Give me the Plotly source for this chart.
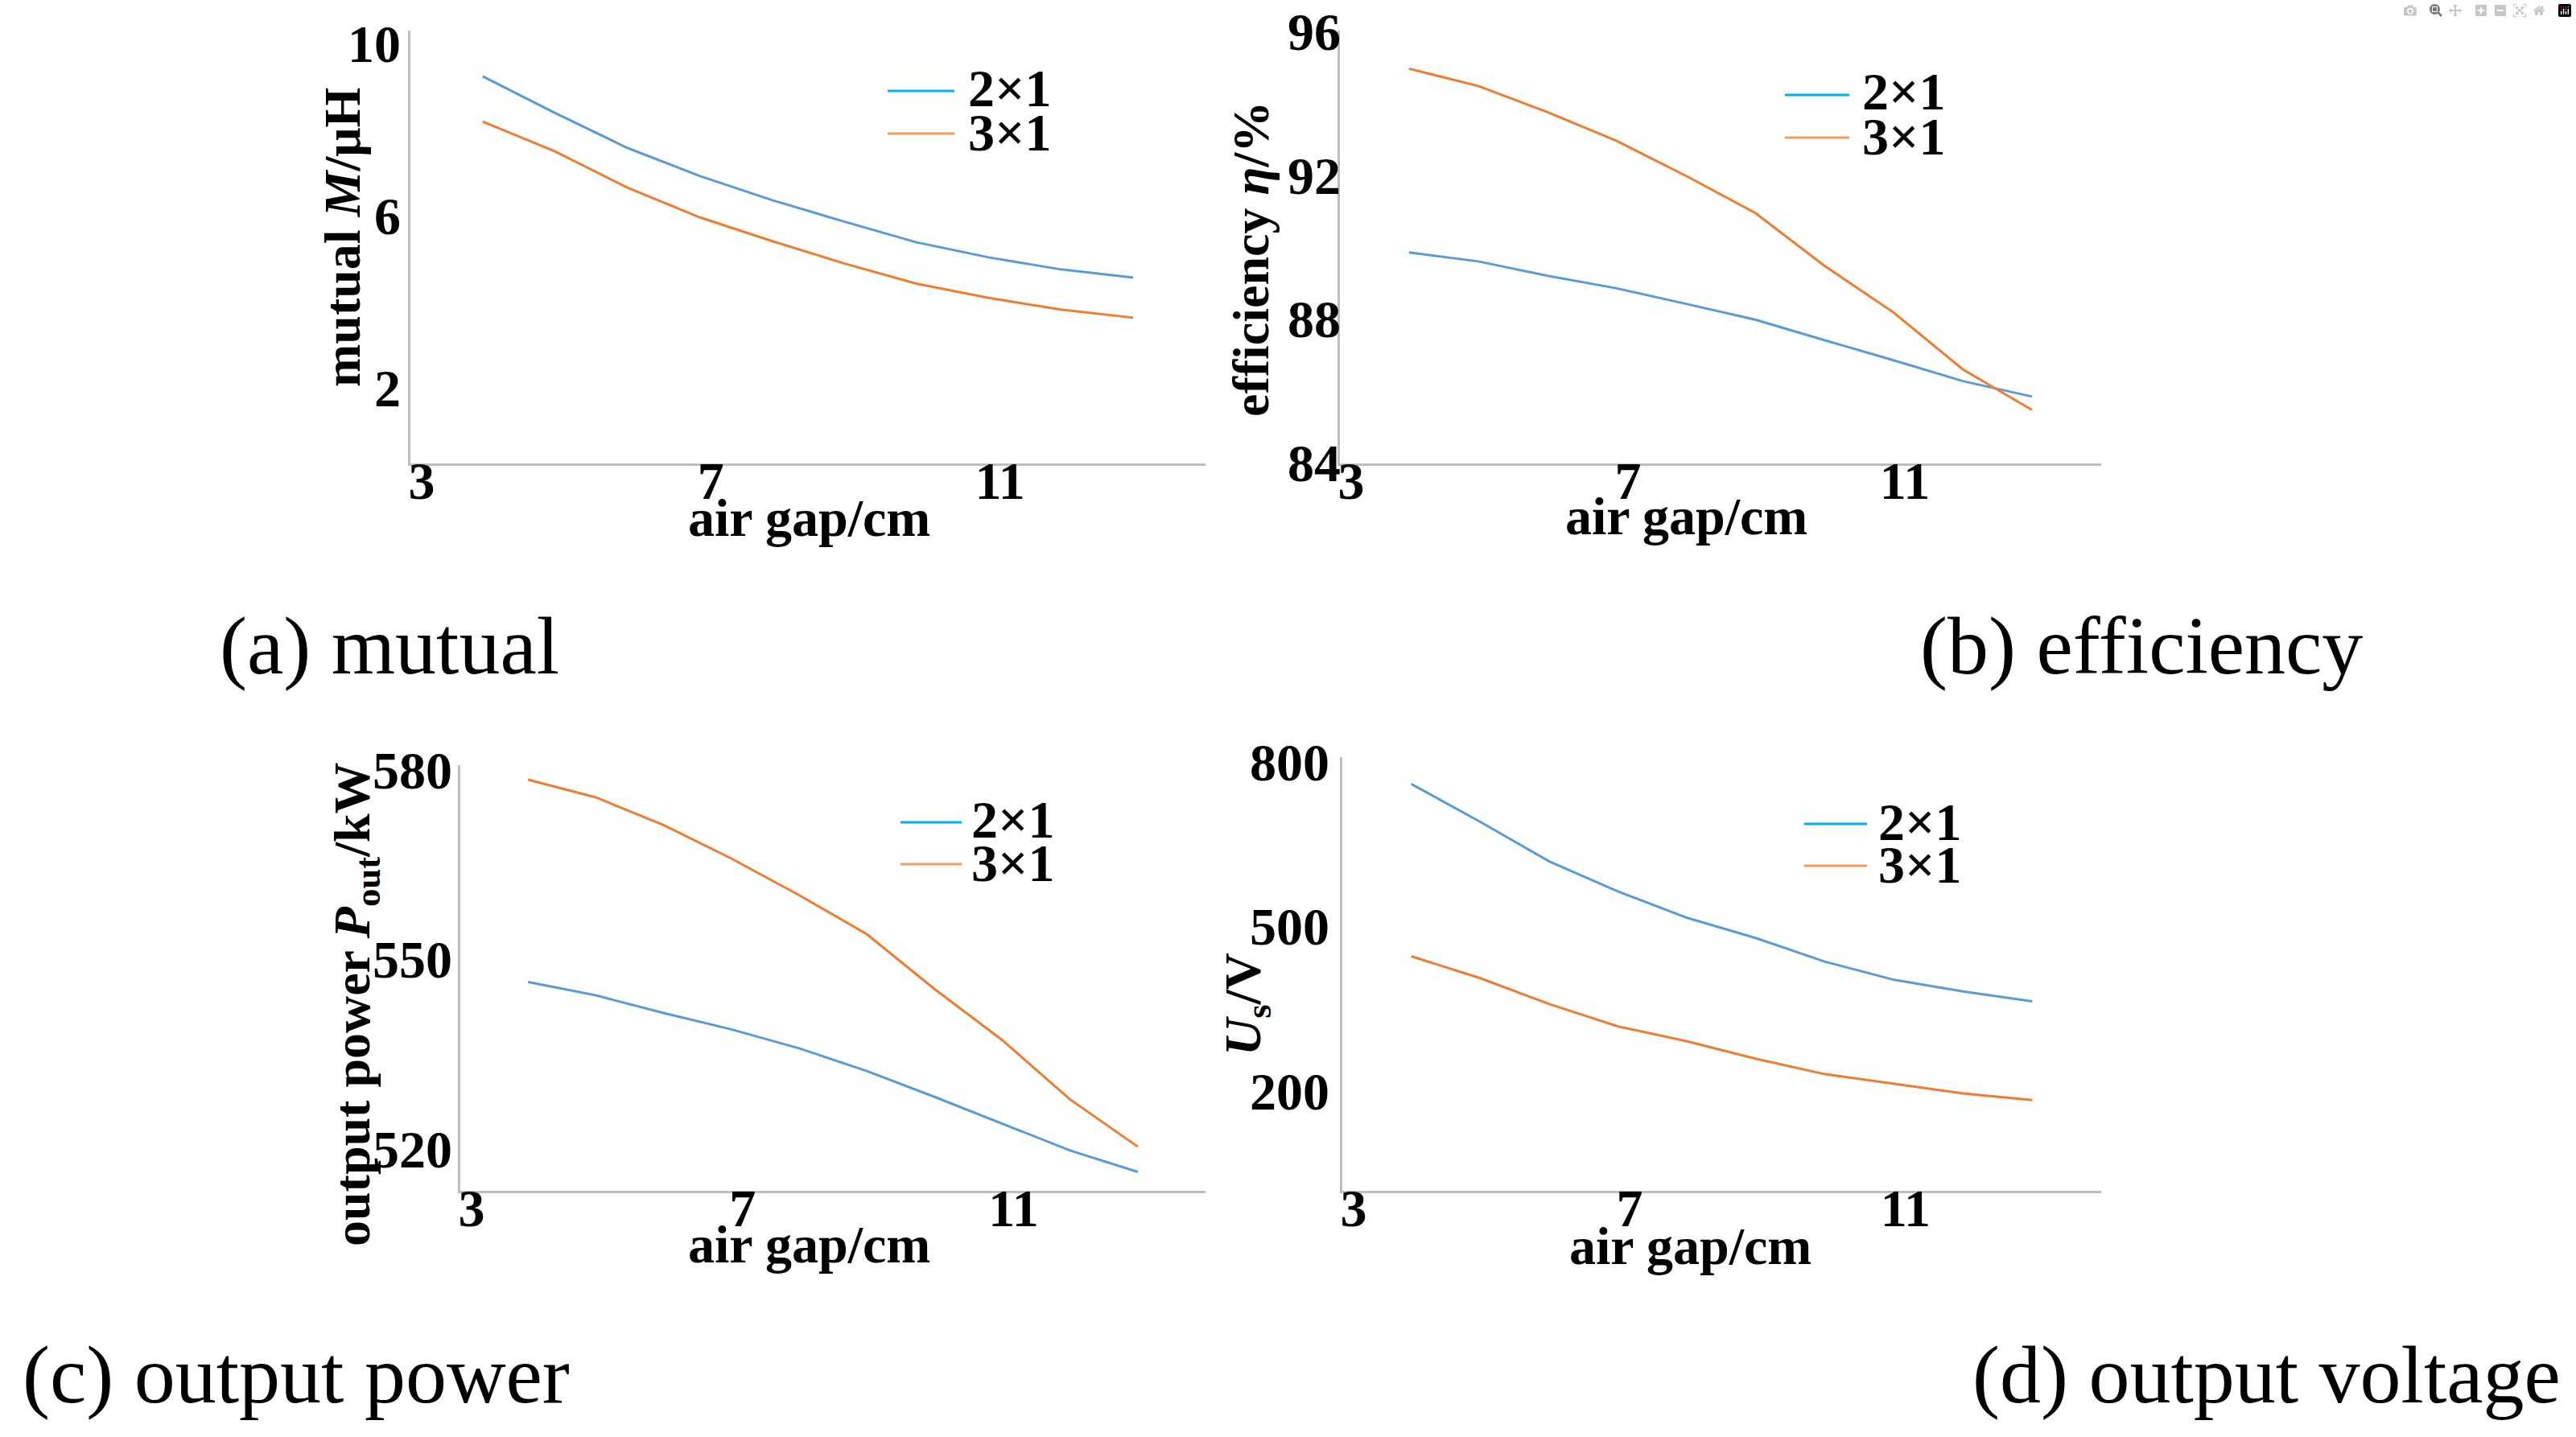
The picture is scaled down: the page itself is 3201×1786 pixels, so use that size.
import plotly.graph_objects as go

W, H = 3201, 1786

# ---- data ----
gap_cm = [4, 5, 6, 7, 8, 9, 10, 11, 12, 13]

mutual_2x1 = [9.23, 8.38, 7.57, 6.92, 6.36, 5.86, 5.38, 5.03, 4.75, 4.56]
mutual_3x1 = [8.18, 7.49, 6.65, 5.96, 5.41, 4.89, 4.42, 4.09, 3.82, 3.63]

eff_2x1 = [89.85, 89.60, 89.20, 88.85, 88.42, 87.98, 87.41, 86.85, 86.27, 85.84]
eff_3x1 = [94.96, 94.48, 93.75, 92.95, 91.98, 90.95, 89.48, 88.18, 86.60, 85.47]

pout_2x1 = [546.4, 544.3, 541.5, 538.9, 535.9, 532.3, 528.2, 524.0, 519.7, 516.3]
pout_3x1 = [578.5, 575.7, 571.3, 566.0, 560.2, 554.0, 545.3, 537.2, 527.8, 520.3]

us_2x1 = [759, 690, 618, 563, 515, 478, 435, 402, 381, 363]
us_3x1 = [445, 405, 358, 317, 290, 258, 230, 212, 195, 183]

series_names = ["2×1", "3×1"]
x_ticks = [3, 7, 11]
mutual_ticks = [2, 6, 10]
eff_ticks = [84, 88, 92, 96]
pout_ticks = [520, 550, 580]
us_ticks = [200, 500, 800]

y_titles = ["mutual <i>M</i>/μH", "efficiency <i>η</i>/%",
            "output power <i>P</i><sub>out</sub>/kW", "<i>U</i><sub>s</sub>/V"]
captions = ["(a) mutual", "(b) efficiency", "(c) output power", "(d) output voltage"]
x_title = "air gap/cm"

# ---- styling ----
BLUE = "#5B9BD5"
ORANGE = "#ED7D31"
LEG_BLUE = "#00B0F0"
LEG_ORANGE = "#F29B5A"
AXIS_C = "#BFBFBF"
FONT = "Liberation Serif"
TICK = 66


def fx(p):
    return p / W


def fy(p):
    return 1 - p / H


panels = [
    dict(s=[mutual_2x1, mutual_3x1], yr=[0.25, 10.29], tv=mutual_ticks,
         box=(510, 1498, 38, 576), so=-4,
         ytitle=(426, 295), xtitle=(1005, 643), cap=(271, 803),
         leg=(1103, 1186, 113, 166, 1201, 109, 165)),
    dict(s=[eff_2x1, eff_3x1], yr=[83.98, 96.02], tv=eff_ticks,
         box=(1665, 2611, 38, 576), so=-17,
         ytitle=(1554, 322), xtitle=(2095, 641), cap=(2384, 803),
         leg=(2218, 2298, 118, 171, 2312, 114, 169)),
    dict(s=[pout_2x1, pout_3x1], yr=[513.3, 580.8], tv=pout_ticks,
         box=(572, 1498, 951, 1480), so=-6,
         ytitle=(442, 1248), xtitle=(1005, 1546), cap=(26, 1708),
         leg=(1119, 1195, 1022, 1074, 1205, 1018, 1072)),
    dict(s=[us_2x1, us_3x1], yr=[17.5, 808], tv=us_ticks,
         box=(1668, 2611, 941, 1480), so=0,
         ytitle=(1549, 1248), xtitle=(2100, 1548), cap=(2449, 1708),
         leg=(2242, 2320, 1024, 1076, 2332, 1021, 1074)),
]

fig = go.Figure()
layout = dict(
    template="none",
    width=W, height=H,
    margin=dict(l=0, r=0, t=0, b=0, pad=0, autoexpand=False),
    paper_bgcolor="white", plot_bgcolor="white",
    showlegend=False,
)
annotations = []
shapes = []

for i, p in enumerate(panels):
    n = "" if i == 0 else str(i + 1)
    xa, ya = "x" + n, "y" + n
    for s, col in zip(p["s"], [BLUE, ORANGE]):
        fig.add_trace(go.Scatter(x=gap_cm, y=s, mode="lines", xaxis=xa, yaxis=ya,
                                 line=dict(color=col, width=3), hoverinfo="skip"))
    x0, x1, y0, y1 = p["box"]
    layout["xaxis" + n] = dict(
        domain=[fx(x0), fx(x1)], range=[3, 14], anchor=ya, automargin=False,
        tickvals=x_ticks, ticks="outside", ticklen=0, tickcolor=AXIS_C,
        showgrid=False, zeroline=False,
        showline=True, linecolor=AXIS_C, linewidth=2.5,
        tickfont=dict(family=FONT, size=TICK, color="black", weight="bold"),
        ticklabelstandoff=-38, ticklabelshift=14,
    )
    layout["yaxis" + n] = dict(
        domain=[fy(y1), fy(y0)], range=p["yr"], anchor=xa, automargin=False,
        tickvals=p["tv"], ticks="outside", ticklen=0, tickcolor=AXIS_C,
        showgrid=False, zeroline=False,
        showline=True, linecolor=AXIS_C, linewidth=2.5,
        tickfont=dict(family=FONT, size=TICK, color="black", weight="bold"),
        ticklabelstandoff=p["so"],
    )
    # y title
    tx, ty = p["ytitle"]
    annotations.append(dict(text=y_titles[i], x=fx(tx), y=fy(ty), xref="paper", yref="paper",
                            textangle=-90, showarrow=False, xanchor="center", yanchor="middle",
                            font=dict(family=FONT, size=64, color="black", weight="bold")))
    # x title
    tx, ty = p["xtitle"]
    annotations.append(dict(text=x_title, x=fx(tx), y=fy(ty), xref="paper", yref="paper",
                            showarrow=False, xanchor="center", yanchor="middle",
                            font=dict(family=FONT, size=66, color="black", weight="bold")))
    # caption
    tx, ty = p["cap"]
    annotations.append(dict(text=captions[i], x=fx(tx), y=fy(ty), xref="paper", yref="paper",
                            showarrow=False, xanchor="left", yanchor="middle",
                            font=dict(family=FONT, size=102, color="black")))
    # legend
    lx0, lx1, ly1, ly2, tx0, ty1, ty2 = p["leg"]
    for ly, ty_, col, name in [(ly1, ty1, LEG_BLUE, series_names[0]),
                               (ly2, ty2, LEG_ORANGE, series_names[1])]:
        shapes.append(dict(type="line", xref="paper", yref="paper",
                           x0=fx(lx0), x1=fx(lx1), y0=fy(ly), y1=fy(ly),
                           line=dict(color=col, width=3)))
        annotations.append(dict(text=name, x=fx(tx0), y=fy(ty_), xref="paper", yref="paper",
                                showarrow=False, xanchor="left", yanchor="middle",
                                font=dict(family=FONT, size=66, color="black", weight="bold")))

layout["annotations"] = annotations
layout["shapes"] = shapes
fig.update_layout(**layout)

fig.write_html("out.html", post_script="document.body.style.margin='0';document.body.style.overflow='hidden';")
